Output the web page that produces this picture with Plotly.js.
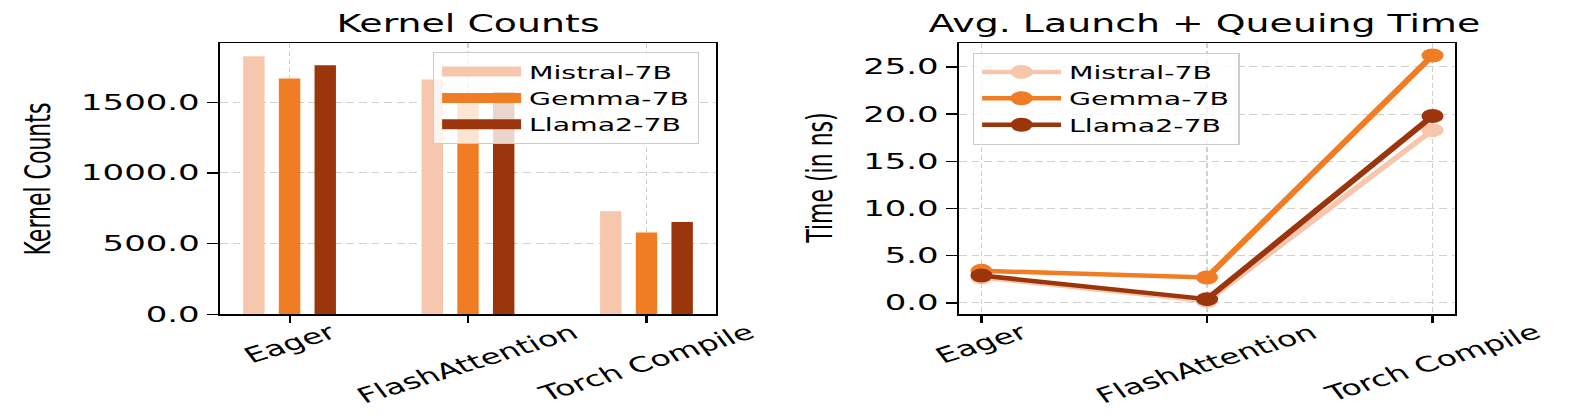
<!DOCTYPE html>
<html>
<head>
<meta charset="utf-8">
<script src="https://cdn.plot.ly/plotly-3.0.1.min.js"></script>
<style>
  html, body { margin: 0; padding: 0; overflow: hidden; background: #fff; }
  /* the source figure is stretched sideways, so draw it 1000px wide and scale on x */
  #chart { width: 1000px; height: 415px; transform: scaleX(1.579); transform-origin: 0 0; }
</style>
</head>
<body>
<div id="chart"></div>
<script>
var categories = ['Eager', 'FlashAttention', 'Torch Compile'];
var models = ['Mistral-7B', 'Gemma-7B', 'Llama2-7B'];
var colors = ['#f6c6ad', '#f07c23', '#9b360c'];

// kernel counts per model
var kernelMistral = [1825, 1660, 728];
var kernelGemma = [1667, 1490, 579];
var kernelLlama = [1761, 1572, 652];

// avg launch + queuing time (ns)
var timeMistral = [2.7, 0.2, 18.3];
var timeGemma = [3.4, 2.7, 26.2];
var timeLlama = [2.9, 0.4, 19.8];

var kernelTicks = [0, 500, 1000, 1500];

var fontFamily = 'DejaVu Sans';
var kernelSeries = [kernelMistral, kernelGemma, kernelLlama];
var timeSeries = [timeMistral, timeGemma, timeLlama];

var data = [];

// bars
for (var i = 0; i < models.length; i++) {
    data.push({
        type: 'bar',
        x: categories,
        y: kernelSeries[i],
        name: models[i],
        marker: { color: colors[i] },
        xaxis: 'x',
        yaxis: 'y',
        showlegend: false,
        hoverinfo: 'skip'
    });
}
// legend entries for the bars (wide patches like matplotlib)
for (var i = 0; i < models.length; i++) {
    data.push({
        type: 'scatter',
        mode: 'lines',
        x: [null],
        y: [null],
        name: models[i],
        line: { color: colors[i], width: 13 },
        xaxis: 'x',
        yaxis: 'y',
        legend: 'legend',
        hoverinfo: 'skip'
    });
}
// lines
for (var i = 0; i < models.length; i++) {
    data.push({
        type: 'scatter',
        mode: 'lines+markers',
        x: categories,
        y: timeSeries[i],
        name: models[i],
        line: { color: colors[i], width: 4.5 },
        marker: { color: colors[i], size: 14 },
        xaxis: 'x2',
        yaxis: 'y2',
        legend: 'legend2'
    });
}

function xAxis(domain, range, anchor) {
    return {
        domain: domain,
        anchor: anchor,
        type: 'category',
        range: range,
        showticklabels: false,
        ticks: 'outside',
        ticklen: 7,
        tickwidth: 1.3,
        tickcolor: '#000',
        showline: true,
        mirror: true,
        linecolor: '#000',
        linewidth: 1.5,
        showgrid: true,
        gridcolor: '#d0d0d0',
        griddash: '5px,3px',
        zeroline: false
    };
}

function yAxis(range, anchor) {
    return {
        domain: [0.2427, 0.8957],
        anchor: anchor,
        range: range,
        tickformat: '.1f',
        ticks: 'outside',
        ticklen: 7,
        tickwidth: 1.3,
        tickcolor: '#000',
        tickfont: { size: 21.5 },
        showline: true,
        mirror: true,
        linecolor: '#000',
        linewidth: 1.5,
        showgrid: true,
        gridcolor: '#d0d0d0',
        griddash: '5px,3px',
        zeroline: false
    };
}

function legendStyle(x, y) {
    return {
        x: x,
        y: y,
        xanchor: 'left',
        yanchor: 'top',
        bgcolor: 'rgba(255,255,255,0.8)',
        bordercolor: '#cccccc',
        borderwidth: 1,
        font: { size: 18 },
        itemwidth: 50
    };
}

var yLeft = yAxis([0, 1917], 'x');
yLeft.tickvals = kernelTicks;
var yRight = yAxis([-1.2, 27.5], 'x2');
yRight.tick0 = 0;
yRight.dtick = 5;

var annotations = [
    { text: 'Kernel Counts', x: 0.2964, y: 0.941, font: { size: 24 } },
    { text: 'Avg. Launch + Queuing Time', x: 0.763, y: 0.941, font: { size: 24 } },
    { text: 'Kernel Counts', x: 0.0247, y: 0.5692, textangle: -90, font: { size: 22 } },
    { text: 'Time (in ns)', x: 0.520, y: 0.5692, textangle: -90, font: { size: 22 } }
].map(function (a) {
    a.xref = 'paper'; a.yref = 'paper'; a.showarrow = false;
    a.xanchor = 'center'; a.yanchor = 'middle';
    return a;
});

// rotated category labels centred under the ticks
['x', 'x2'].forEach(function (ax) {
    categories.forEach(function (c) {
        annotations.push({
            text: c, x: c, xref: ax, y: 0.2361, yref: 'paper',
            xanchor: 'center', yanchor: 'top', textangle: -26,
            showarrow: false, font: { size: 21 }
        });
    });
});

var layout = {
    width: 1000,
    height: 415,
    margin: { l: 0, r: 0, t: 0, b: 0 },
    paper_bgcolor: '#fff',
    plot_bgcolor: '#fff',
    font: { family: fontFamily, color: '#000', size: 21 },
    barmode: 'group',
    bargap: 0.4,
    bargroupgap: 0.4,
    xaxis: xAxis([0.1393, 0.4535], [-0.39, 2.39], 'y'),
    yaxis: yLeft,
    xaxis2: xAxis([0.6073, 0.9215], [-0.1, 2.1], 'y2'),
    yaxis2: yRight,
    legend: legendStyle(0.274, 0.874),
    legend2: legendStyle(0.616, 0.873),
    annotations: annotations
};

Plotly.newPlot('chart', data, layout, { displayModeBar: false, staticPlot: true });
</script>
</body>
</html>
